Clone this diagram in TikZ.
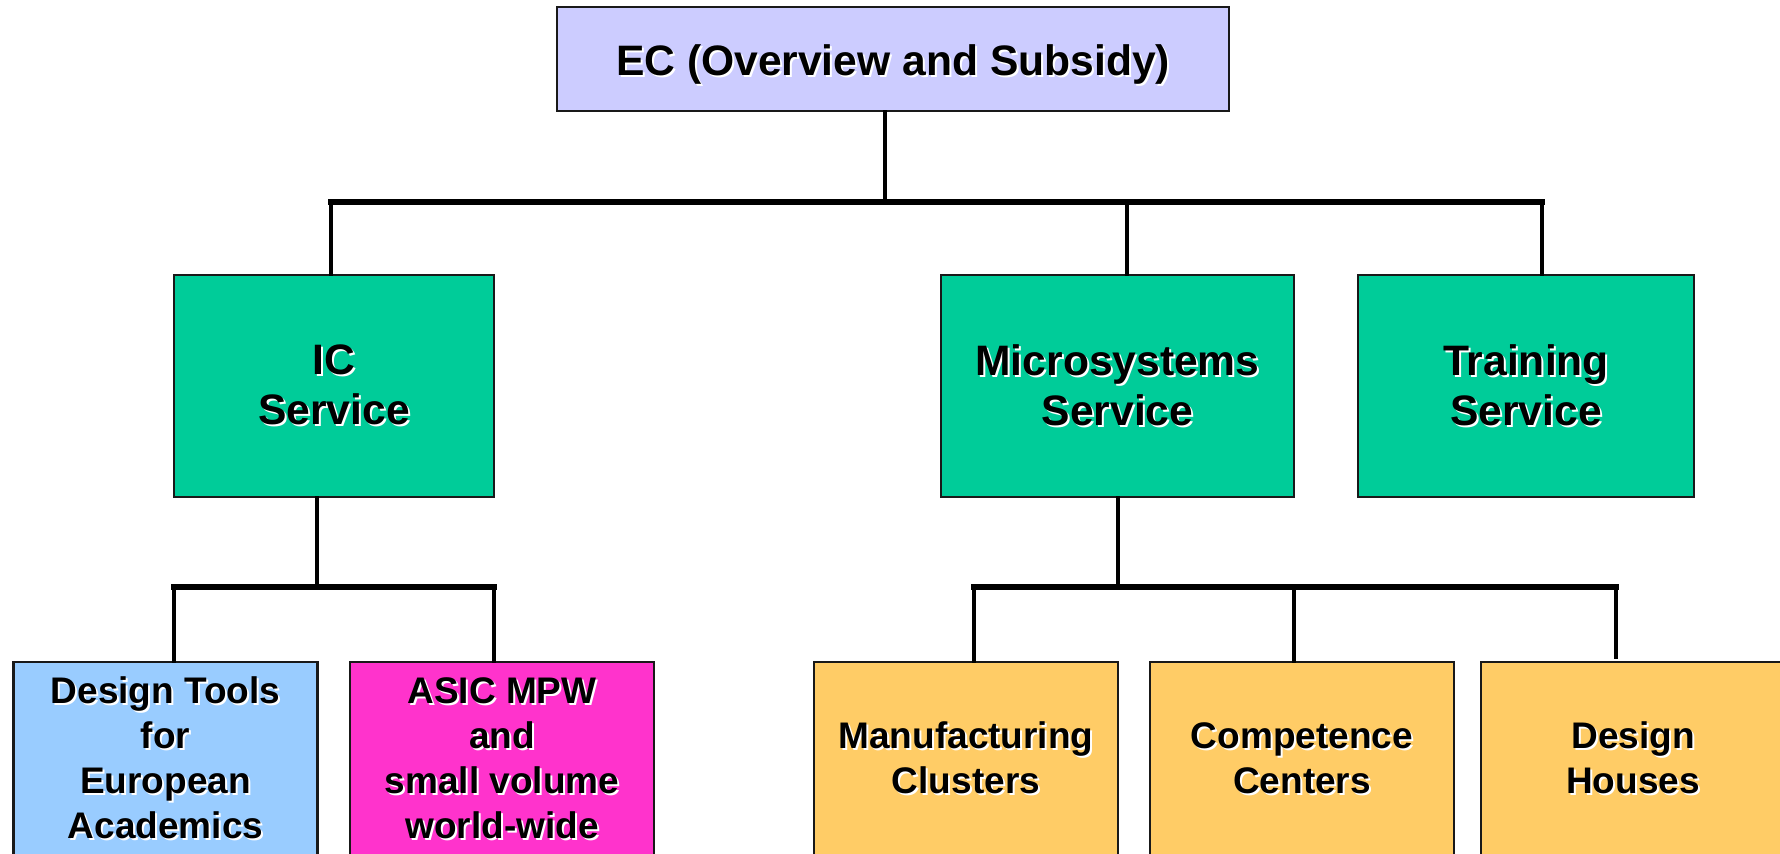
\documentclass[tikz,border=0pt]{standalone}
\usepackage{fontspec}
\setmainfont{Liberation Sans}
\usepackage{tikz}
\usetikzlibrary{positioning}
\definecolor{ecblue}{RGB}{204,204,255}
\definecolor{svcgreen}{RGB}{0,204,153}
\definecolor{toolblue}{RGB}{153,204,255}
\definecolor{asicpink}{RGB}{255,51,204}
\definecolor{mstyellow}{RGB}{255,204,102}

% black text with a white drop shadow
\newcommand{\txtshadow}[1]{\makebox[0pt][l]{\raisebox{-1pt}{\hspace{1pt}\color{white}#1}}#1}

\begin{document}
\begin{tikzpicture}[
        x=0.5pt, y=-0.5pt,
        box/.style={rectangle, draw=black!90, line width=1.2pt, align=center, inner sep=0pt},
        bigtxt/.style={font=\fontsize{21.3pt}{25pt}\selectfont\bfseries},
        smalltxt/.style={font=\fontsize{18.5pt}{22.5pt}\selectfont\bfseries},
        ecbox/.style={box, bigtxt, fill=ecblue, minimum width=336pt, minimum height=52pt,
            execute at begin node={\rule{0pt}{22pt}}},
        svcbox/.style={box, bigtxt, fill=svcgreen, minimum height=111pt,
            execute at begin node={\rule{0pt}{19.5pt}}},
        subbox/.style={box, smalltxt, minimum width=152pt, minimum height=97pt,
            execute at begin node={\rule{0pt}{16.5pt}}},
        link/.style={line width=2pt, line cap=rect},
        bus/.style={line width=3pt, line cap=rect}
    ]
    \useasboundingbox (0,0) rectangle (1780,853);
    \clip (0,0) rectangle (1780,853);

    % top
    \node[ecbox] (ec) at (893,59) {\txtshadow{EC (Overview and Subsidy)}};

    % services
    \node[svcbox, minimum width=160pt] (ic) at (334,386) {\txtshadow{IC}\\\txtshadow{Service}};
    \node[svcbox, minimum width=176.5pt] (ms) at (1117.5,386) {\txtshadow{Microsystems}\\\txtshadow{Service}};
    \node[svcbox, minimum width=168pt] (train) at (1526,386) {\txtshadow{Training}\\\txtshadow{Service}};

    % IC sub-units
    \node[subbox, fill=toolblue] (tools) at (165.5,759) {\txtshadow{Design Tools}\\\txtshadow{for}\\\txtshadow{European}\\\txtshadow{Academics}};
    \node[subbox, fill=asicpink] (asic) at (502,759) {\txtshadow{ASIC MPW}\\\txtshadow{and}\\\txtshadow{small volume}\\\txtshadow{world-wide}};

    % microsystems sub-units
    \node[subbox, fill=mstyellow] (manu) at (966,759) {\txtshadow{Manufacturing}\\\txtshadow{Clusters}};
    \node[subbox, fill=mstyellow] (comp) at (1302,759) {\txtshadow{Competence}\\\txtshadow{Centers}};
    \node[subbox, fill=mstyellow] (house) at (1633,759) {\txtshadow{Design}\\\txtshadow{Houses}};

    % junctions
    \coordinate (topbus) at (885,202);
    \coordinate (j1) at (331,202);
    \coordinate (j2) at (1127,202);
    \coordinate (j3) at (1542,202);
    \coordinate (icbus) at (317,587);
    \coordinate (k1) at (174,587);
    \coordinate (k2) at (494,587);
    \coordinate (msbus) at (1118,587);
    \coordinate (m1) at (974,587);
    \coordinate (m2) at (1294,587);
    \coordinate (m3) at (1616,587);

    % first level
    \draw[link] (ec.south -| topbus) -- (topbus);
    \draw[bus] (j1) -- (j3);
    \draw[link] (j1) -- (j1 |- ic.north);
    \draw[link] (j2) -- (j2 |- ms.north);
    \draw[link] (j3) -- (j3 |- train.north);

    % second level
    \draw[link] (icbus |- ic.south) -- (icbus);
    \draw[bus] (k1) -- (k2);
    \draw[link] (k1) -- (k1 |- tools.north);
    \draw[link] (k2) -- (k2 |- asic.north);

    \draw[link] (msbus |- ms.south) -- (msbus);
    \draw[bus] (m1) -- (m3);
    \draw[link] (m1) -- (m1 |- manu.north);
    \draw[link] (m2) -- (m2 |- comp.north);
    \draw[link, shorten >=2pt] (m3) -- (m3 |- house.north);

\end{tikzpicture}
\end{document}
